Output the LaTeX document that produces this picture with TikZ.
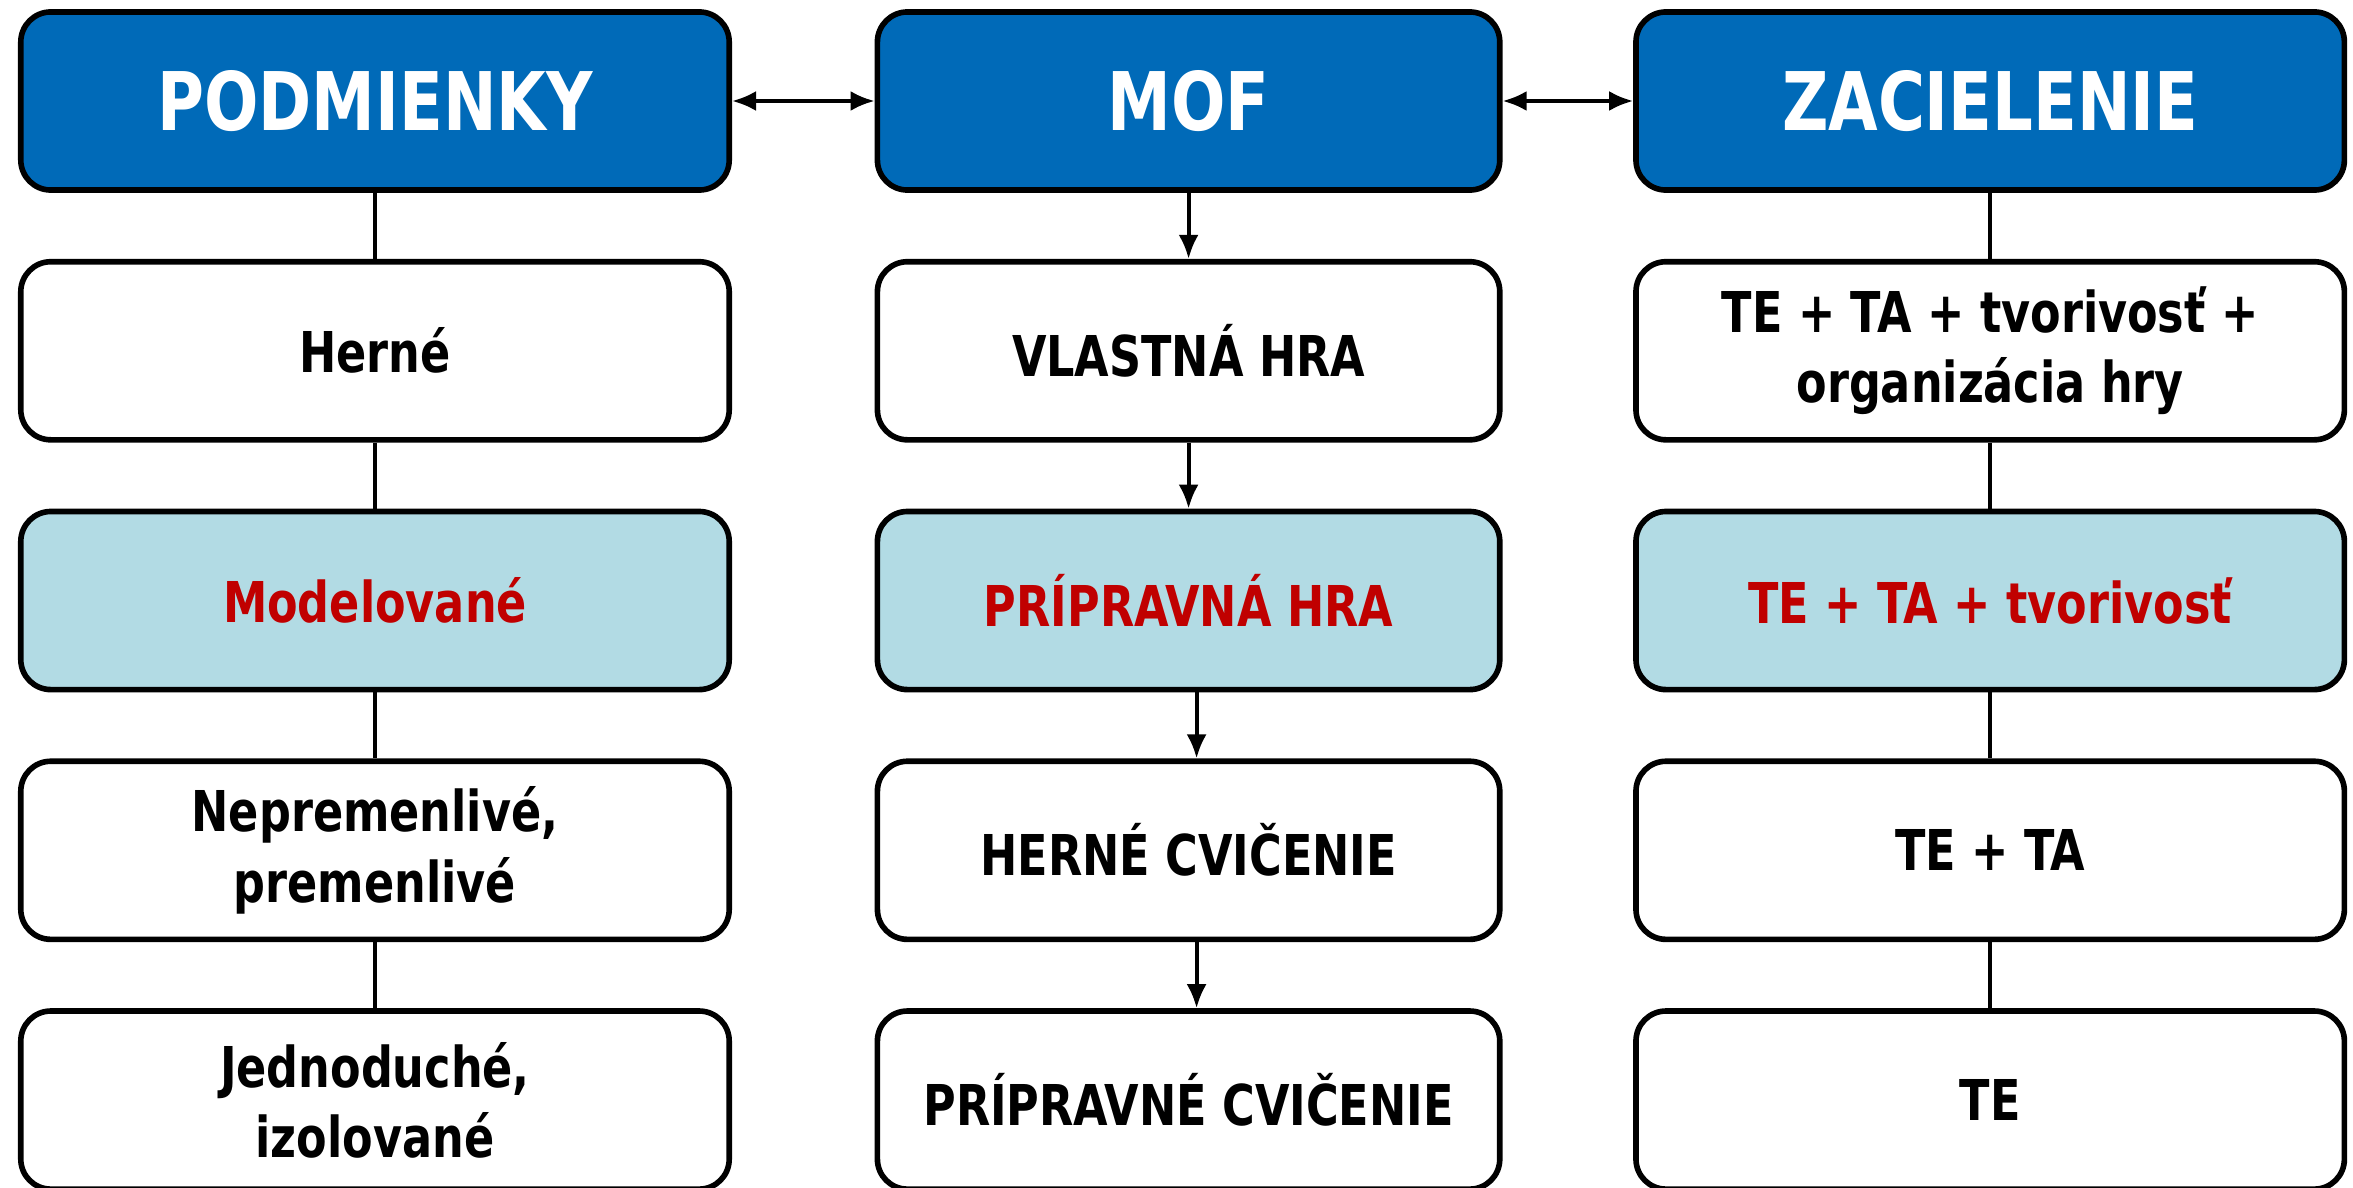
\documentclass[tikz,border=0pt]{standalone}
\usepackage{fontspec}
\setmainfont{DejaVu Sans Condensed}[FakeStretch=0.88]
\usepackage{xcolor}
\usetikzlibrary{arrows.meta,
                positioning}
\definecolor{headblue}{RGB}{0,106,184}
\definecolor{softblue}{RGB}{178,219,228}
\definecolor{darkred}{RGB}{192,0,0}
\tikzset{
        base/.style={draw, line width=1.6pt, rounded corners=0.3cm, align=center,
                     inner sep=0pt, minimum height=1.78cm, font=\bfseries\fontsize{16}{20}\selectfont},
        wide/.style={base, minimum width=7.08cm},
        narrow/.style={base, minimum width=6.22cm},
        head/.style={fill=headblue, text=white, font=\bfseries\fontsize{23}{28}\selectfont},
        hilite/.style={fill=softblue, text=darkred},
        link/.style={line width=1.1pt},
        myarrow/.style={-{Latex[length=2.4mm,width=2mm]}, line width=1.1pt},
        twoway/.style={{Latex[length=2.4mm,width=2mm]}-{Latex[length=2.4mm,width=2mm]}, line width=1.1pt},
 }

\begin{document}
\begin{tikzpicture}[x=0.01cm, y=-0.01cm, node distance=0.66cm]
    \useasboundingbox (0,0) rectangle (2353,1188);

    % headers
    \node[wide, head] (podm) at (375,101) {PODMIENKY};
    \node[narrow, head, right=1.425cm of podm] (mof) {MOF};
    \node[wide, head, right=1.305cm of mof] (ciel) {ZACIELENIE};

    % podmienky
    \node[wide, below= of podm] (p1) {Herné};
    \node[wide, hilite, below= of p1] (p2) {Modelované};
    \node[wide, below= of p2] (p3) {Nepremenlivé,\\ premenlivé};
    \node[wide, below= of p3] (p4) {Jednoduché,\\ izolované};

    % mof
    \node[narrow, below= of mof] (m1) {VLASTNÁ HRA};
    \node[narrow, hilite, below= of m1] (m2) {PRÍPRAVNÁ HRA};
    \node[narrow, below= of m2] (m3) {HERNÉ CVIČENIE};
    \node[narrow, below= of m3] (m4) {PRÍPRAVNÉ CVIČENIE};

    % zacielenie
    \node[wide, below= of ciel] (c1) {TE + TA + tvorivosť +\\ organizácia hry};
    \node[wide, hilite, below= of c1] (c2) {TE + TA + tvorivosť};
    \node[wide, below= of c2] (c3) {TE + TA};
    \node[wide, below= of c3] (c4) {TE};

    \draw[twoway] (podm) -- (mof);
    \draw[twoway] (mof) -- (ciel);

    \draw[link] (podm) -- (p1);
    \draw[link] (p1) -- (p2);
    \draw[link] (p2) -- (p3);
    \draw[link] (p3) -- (p4);

    \draw[myarrow] (mof) -- (m1);
    \draw[myarrow] (m1) -- (m2);
    \draw[myarrow] ([xshift=0.08cm]m2.south) -- ([xshift=0.08cm]m3.north);
    \draw[myarrow] ([xshift=0.08cm]m3.south) -- ([xshift=0.08cm]m4.north);

    \draw[link] (ciel) -- (c1);
    \draw[link] (c1) -- (c2);
    \draw[link] (c2) -- (c3);
    \draw[link] (c3) -- (c4);
\end{tikzpicture}
\end{document}
